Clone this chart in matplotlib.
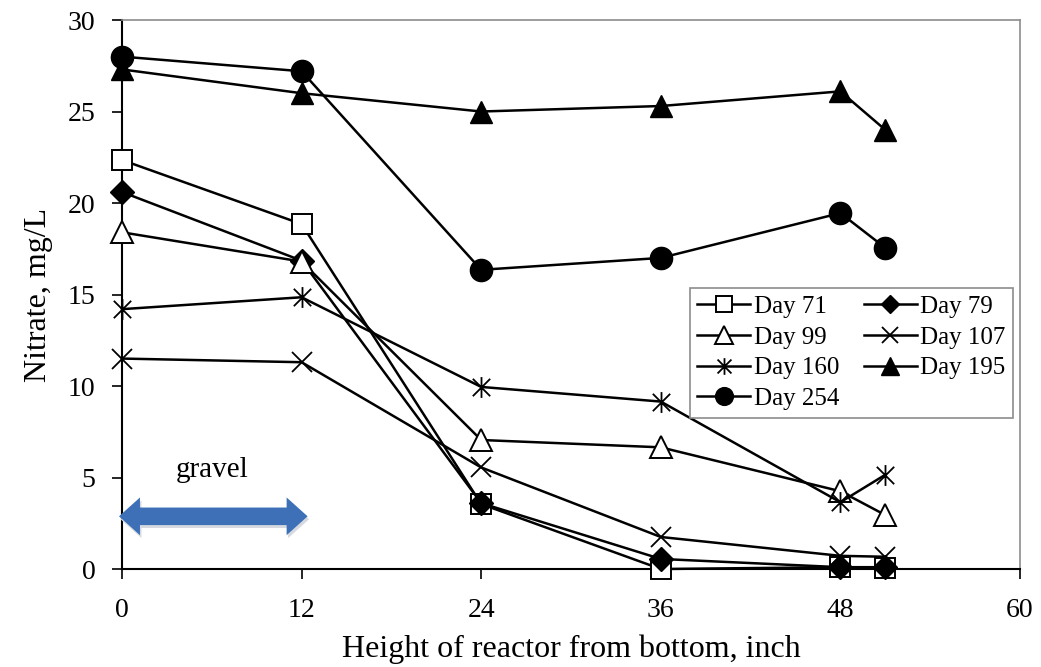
import matplotlib
matplotlib.use("Agg")
import matplotlib.pyplot as plt
from matplotlib.path import Path
from matplotlib.patches import Polygon

plt.rcParams['font.family'] = ['Liberation Serif', 'DejaVu Serif']

heights = [0, 12, 24, 36, 48, 51]
day71 = [22.35, 18.85, 3.55, 0.0, 0.1, 0.05]
day79 = [20.6, 16.85, 3.6, 0.55, 0.1, 0.1]
day99 = [18.4, 16.8, 7.05, 6.65, 4.25, 2.95]
day107 = [11.5, 11.3, 5.55, 1.75, 0.72, 0.67]
day160 = [14.2, 14.85, 9.95, 9.15, 3.65, 5.15]
day195 = [27.3, 26.0, 25.0, 25.3, 26.1, 24.0]
day254 = [28.0, 27.2, 16.35, 17.0, 19.45, 17.55]

x_ticks = [0, 12, 24, 36, 48, 60]
y_ticks = [0, 5, 10, 15, 20, 25, 30]

# six-armed star: an X with a vertical bar through it
star = Path([(-1, -1), (1, 1), (-1, 1), (1, -1), (0, -1.2), (0, 1.2)],
            [Path.MOVETO, Path.LINETO, Path.MOVETO, Path.LINETO,
             Path.MOVETO, Path.LINETO])


def double_arrow(x0, x1, yc, body, head, head_len):
    """Outline of a horizontal double-headed block arrow."""
    return [(x0, yc),
            (x0 + head_len, yc + head), (x0 + head_len, yc + body),
            (x1 - head_len, yc + body), (x1 - head_len, yc + head),
            (x1, yc),
            (x1 - head_len, yc - head), (x1 - head_len, yc - body),
            (x0 + head_len, yc - body), (x0 + head_len, yc - head)]


fig = plt.figure(figsize=(10.41, 6.67), dpi=100)
ax = fig.add_axes([0.1172, 0.1469, 0.8626, 0.8231])

lw = 1.8
series = [
    ("Day 71", day71, dict(marker='s', ms=15, mfc='white', mec='black', mew=1.4)),
    ("Day 79", day79, dict(marker='D', ms=12, mfc='black', mec='black')),
    ("Day 99", day99, dict(marker='^', ms=16, mfc='white', mec='black', mew=1.4)),
    ("Day 107", day107, dict(marker='x', ms=14, mec='black', mew=1.3)),
    ("Day 160", day160, dict(marker=star, ms=15, mec='black', mew=1.3)),
    ("Day 195", day195, dict(marker='^', ms=16, mfc='black', mec='black')),
    ("Day 254", day254, dict(marker='o', ms=16, mfc='black', mec='black')),
]

handles = {}
for name, vals, style in series:
    h, = ax.plot(heights, vals, color='black', lw=lw, label=name,
                 clip_on=False, zorder=3, **style)
    handles[name] = h

ax.set_xlim(0, 60)
ax.set_ylim(0, 30)
ax.set_xticks(x_ticks)
ax.set_yticks(y_ticks)
ax.tick_params(axis='both', direction='out', length=7, width=1.2,
               labelsize=20, color='black')
ax.tick_params(axis='x', pad=14)
ax.tick_params(axis='y', pad=12)

for side in ('left', 'bottom'):
    ax.spines[side].set_color('black')
    ax.spines[side].set_linewidth(1.5)
for side in ('top', 'right'):
    ax.spines[side].set_color('#8c8c8c')
    ax.spines[side].set_linewidth(1.2)

ax.set_xlabel("Height of reactor from bottom, inch", fontsize=23, labelpad=8)
ax.set_ylabel("Nitrate, mg/L", fontsize=23, labelpad=11)

# gravel zone marker: block arrow spanning the gravel layer, with a soft shadow
ax.add_patch(Polygon(double_arrow(-0.1, 12.5, 2.72, 0.48, 1.03, 1.4),
                     closed=True, facecolor='#d6dae0', edgecolor='none',
                     zorder=3.8, clip_on=False))
ax.add_patch(Polygon(double_arrow(-0.2, 12.4, 2.88, 0.48, 1.03, 1.4),
                     closed=True, facecolor='#3d70b7', edgecolor='none',
                     zorder=4, clip_on=False))
ax.text(6.0, 5.4, "gravel", fontsize=21, ha='center', va='center')

order = ["Day 71", "Day 99", "Day 160", "Day 254",
         "Day 79", "Day 107", "Day 195"]
leg = ax.legend([handles[n] for n in order], order, ncol=2,
                loc='upper left', bbox_to_anchor=(0.6325, 0.512),
                fontsize=18, frameon=True, fancybox=False, framealpha=1,
                edgecolor='#8c8c8c', handlelength=2.1, handletextpad=0.15,
                columnspacing=1.0, labelspacing=0.33, borderpad=0.3,
                markerscale=0.8, borderaxespad=0)
leg.get_frame().set_linewidth(1.2)

fig.savefig("out.png", dpi=100)
